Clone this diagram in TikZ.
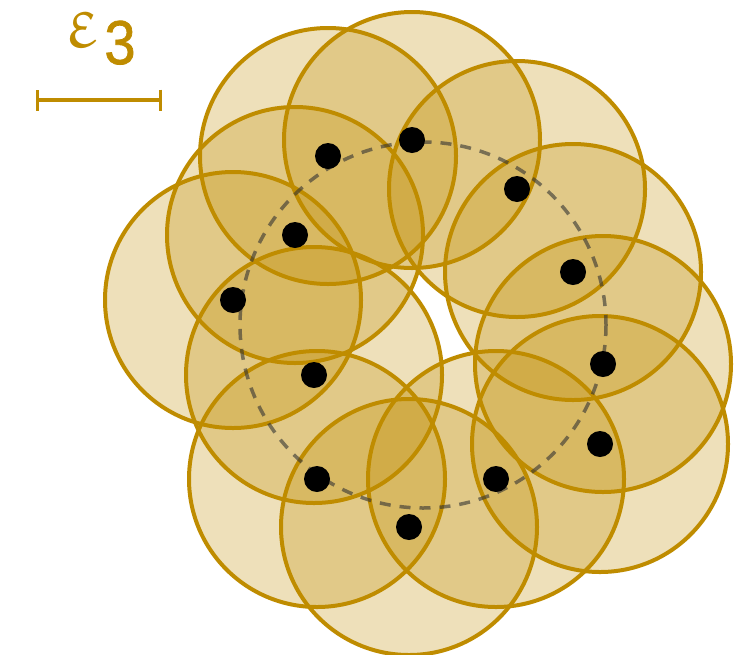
\documentclass[tikz,border=0pt]{standalone}
\usepackage{fontspec}
\newfontfamily\digitfont{Liberation Sans}[FakeBold=1.3]
\usetikzlibrary{arrows.meta,positioning}
\definecolor{gold}{RGB}{191,140,0}
\font\eulfont=eurm10

\begin{document}
\begin{tikzpicture}[x=1pt,y=-1pt,
  disc/.style={draw=gold, line width=4pt, fill=gold, fill opacity=0.27},
  dot/.style={circle, fill=black, inner sep=0pt, minimum size=26pt},
  orbit/.style={draw=black!80, draw opacity=0.6, line width=3.5pt, dash pattern=on 11pt off 9pt}]
\useasboundingbox (0,0) rectangle (754,654);
\def\rad{128}
\foreach \i/\x/\y in {1/328/156, 2/412/140, 3/517/189, 4/573/272, 5/603/364, 6/600/444,
                      7/496/479, 8/409/527, 9/317/479, 10/314/375, 11/233/300, 12/295/235} {
  \coordinate (c\i) at (\x,\y);
}
% covering discs
\foreach \i in {1,...,12} \draw[disc] (c\i) circle[radius=\rad];
\coordinate (mid) at (423,325);
\draw[orbit] (mid) circle[radius=183];
\foreach \i in {1,...,12} \node[dot] (d\i) at (c\i) {};
% scale bar
\coordinate (barL) at (36,100);
\coordinate (barR) at (162,100);
\draw[gold, line width=3.5pt, {Bar[width=21pt,line width=3pt]}-{Bar[width=21pt,line width=3pt]}] (barL) -- (barR);
\node[gold, anchor=base, inner sep=0pt] (three) at (120,64) {\scalebox{5.6}[6.2]{\digitfont 3}};
\node[gold, anchor=base, inner sep=0pt] (eps) at (83,47) {\scalebox{7.5}{\eulfont\char"22}};
\end{tikzpicture}
\end{document}
